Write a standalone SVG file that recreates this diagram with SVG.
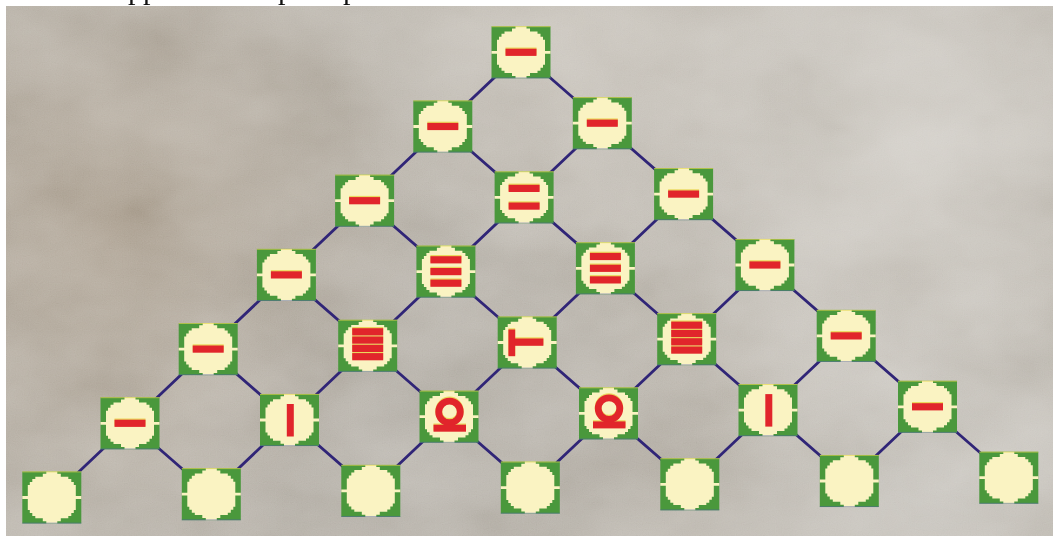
<svg xmlns="http://www.w3.org/2000/svg" xmlns:xlink="http://www.w3.org/1999/xlink" width="1053" height="536" viewBox="0 0 1053 536">
<style>
.cut{font-family:"Liberation Serif","Times New Roman",serif;font-size:30px;fill:#111}
.link{stroke:#302577;stroke-width:2.8;stroke-linecap:round}
.red{color:#e1252b}
.hl{color:#e8d44c;opacity:0.85}
</style>
<defs>
<radialGradient id="lt1" cx="900" cy="150" r="360" gradientUnits="userSpaceOnUse">
<stop offset="0" stop-color="#d0ccc5" stop-opacity="0.8"/>
<stop offset="1" stop-color="#d0ccc5" stop-opacity="0"/>
</radialGradient>
<radialGradient id="lt2" cx="560" cy="30" r="240" gradientUnits="userSpaceOnUse">
<stop offset="0" stop-color="#c8c2b9" stop-opacity="0.6"/>
<stop offset="1" stop-color="#c8c2b9" stop-opacity="0"/>
</radialGradient>
<radialGradient id="dk1" cx="110" cy="230" r="330" gradientUnits="userSpaceOnUse">
<stop offset="0" stop-color="#a09280" stop-opacity="0.8"/>
<stop offset="1" stop-color="#a09280" stop-opacity="0"/>
</radialGradient>
<radialGradient id="lt3" cx="930" cy="500" r="240" gradientUnits="userSpaceOnUse">
<stop offset="0" stop-color="#c9c6c0" stop-opacity="0.7"/>
<stop offset="1" stop-color="#c9c6c0" stop-opacity="0"/>
</radialGradient>
<radialGradient id="dk2" cx="420" cy="440" r="280" gradientUnits="userSpaceOnUse">
<stop offset="0" stop-color="#a9a49c" stop-opacity="0.6"/>
<stop offset="1" stop-color="#a9a49c" stop-opacity="0"/>
</radialGradient>
<filter id="mottle" x="0" y="0" width="100%" height="100%">
<feTurbulence type="fractalNoise" baseFrequency="0.008 0.012" numOctaves="4" seed="11"/>
<feColorMatrix type="matrix" values="0.33 0.33 0.33 0 0 0.33 0.33 0.33 0 0 0.33 0.33 0.33 0 0 0 0 0 0 1"/>
<feComponentTransfer>
<feFuncR type="linear" slope="1.4" intercept="-0.2"/>
<feFuncG type="linear" slope="1.4" intercept="-0.2"/>
<feFuncB type="linear" slope="1.4" intercept="-0.2"/>
</feComponentTransfer>
</filter>
<filter id="grain" x="0" y="0" width="100%" height="100%">
<feTurbulence type="fractalNoise" baseFrequency="0.85" numOctaves="1" seed="3"/>
<feColorMatrix type="matrix" values="0.33 0.33 0.33 0 0 0.33 0.33 0.33 0 0 0.33 0.33 0.33 0 0 0 0 0 0 1"/>
</filter>
<g id="tile">
<rect x="-29.5" y="-26" width="59" height="52" fill="#4a983c"/>
<polygon fill="#faf3c2" points="0,-26 5.5,-26 5.5,-23.8 9,-23.8 9,-20.8 16.5,-20.8 16.5,-18.5 19.5,-18.5 19.5,-15.5 22,-15.5 22,-12.5 24,-12.5 24,-1.4 29.5,-1.4 29.5,1.4 24,1.4 24,12.5 22,12.5 22,15.5 19.5,15.5 19.5,18.5 16.5,18.5 16.5,20.8 9,20.8 9,23.8 5.5,23.8 5.5,26 -5.5,26 -5.5,23.8 -9,23.8 -9,20.8 -16.5,20.8 -16.5,18.5 -19.5,18.5 -19.5,15.5 -22,15.5 -22,12.5 -24,12.5 -24,1.4 -29.5,1.4 -29.5,-1.4 -24,-1.4 -24,-12.5 -22,-12.5 -22,-15.5 -19.5,-15.5 -19.5,-18.5 -16.5,-18.5 -16.5,-20.8 -9,-20.8 -9,-23.8 -5.5,-23.8 -5.5,-26"/>
<line x1="-29.5" y1="-25.6" x2="29.5" y2="-25.6" stroke="#e3d64e" stroke-width="0.9" opacity="0.7"/>
<line x1="-29.5" y1="25.6" x2="29.5" y2="25.6" stroke="#4a5aa8" stroke-width="0.9" opacity="0.5"/>
</g>
<g id="g1" fill="currentColor"><rect x="-15.5" y="-3.6" width="31" height="7.2"/></g>
<g id="g2" fill="currentColor"><rect x="-15.5" y="-12.6" width="31" height="7.2"/><rect x="-15.5" y="5.1" width="31" height="7.2"/></g>
<g id="g3" fill="currentColor"><rect x="-15.5" y="-15.4" width="31" height="7.2"/><rect x="-15.5" y="-3.6" width="31" height="7.2"/><rect x="-15.5" y="8" width="31" height="7.2"/></g>
<g id="g4" fill="currentColor"><rect x="-15.5" y="-17.6" width="31" height="7.2"/><rect x="-15.5" y="-9.3" width="31" height="7.2"/><rect x="-15.5" y="-1" width="31" height="7.2"/><rect x="-15.5" y="7.3" width="31" height="7.2"/></g>
<g id="g5" fill="currentColor"><rect x="-2.7" y="-16" width="7" height="32.5"/></g>
<g id="g6" fill="currentColor"><rect x="-18.8" y="-13" width="6.8" height="26.7"/><rect x="-12.3" y="-4" width="28.5" height="7.3"/></g>
<g id="g10"><circle cx="0.5" cy="-4.8" r="10.8" fill="none" stroke="currentColor" stroke-width="6.8"/><rect x="-15.5" y="8" width="32.5" height="7" fill="currentColor"/></g>
</defs>

<rect x="0" y="0" width="1053" height="536" fill="#ffffff"/>
<g id="background">
<rect x="6" y="6" width="1047" height="530" fill="#afa99f"/>
<rect x="6" y="6" width="1047" height="530" fill="url(#dk1)"/>
<rect x="6" y="6" width="1047" height="530" fill="url(#dk2)"/>
<rect x="6" y="6" width="1047" height="530" fill="url(#lt1)"/>
<rect x="6" y="6" width="1047" height="530" fill="url(#lt2)"/>
<rect x="6" y="6" width="1047" height="530" fill="url(#lt3)"/>
<rect x="6" y="6" width="1047" height="530" filter="url(#mottle)" style="mix-blend-mode:soft-light" opacity="0.65"/>
<rect x="6" y="6" width="1047" height="530" filter="url(#grain)" style="mix-blend-mode:soft-light" opacity="0.35"/>
</g>

<g id="heading-fragments">
<text class="cut" x="128" y="-1.5">pp</text>
<text class="cut" x="278" y="-1.5">p</text>
<text class="cut" x="343" y="-1.5">p</text>
</g>

<g id="connectors">
<line class="link" x1="521" y1="52.3" x2="442.8" y2="126.5"/>
<line class="link" x1="521" y1="52.3" x2="602.3" y2="123.2"/>
<line class="link" x1="442.8" y1="126.5" x2="364.6" y2="200.7"/>
<line class="link" x1="442.8" y1="126.5" x2="524.1" y2="197.4"/>
<line class="link" x1="602.3" y1="123.2" x2="524.1" y2="197.4"/>
<line class="link" x1="602.3" y1="123.2" x2="683.6" y2="194.1"/>
<line class="link" x1="364.6" y1="200.7" x2="286.4" y2="274.9"/>
<line class="link" x1="364.6" y1="200.7" x2="445.9" y2="271.6"/>
<line class="link" x1="524.1" y1="197.4" x2="445.9" y2="271.6"/>
<line class="link" x1="524.1" y1="197.4" x2="605.4" y2="268.3"/>
<line class="link" x1="683.6" y1="194.1" x2="605.4" y2="268.3"/>
<line class="link" x1="683.6" y1="194.1" x2="764.9" y2="265"/>
<line class="link" x1="286.4" y1="274.9" x2="208.2" y2="349.1"/>
<line class="link" x1="286.4" y1="274.9" x2="367.7" y2="345.8"/>
<line class="link" x1="445.9" y1="271.6" x2="367.7" y2="345.8"/>
<line class="link" x1="445.9" y1="271.6" x2="527.2" y2="342.5"/>
<line class="link" x1="605.4" y1="268.3" x2="527.2" y2="342.5"/>
<line class="link" x1="605.4" y1="268.3" x2="686.7" y2="339.2"/>
<line class="link" x1="764.9" y1="265" x2="686.7" y2="339.2"/>
<line class="link" x1="764.9" y1="265" x2="846.2" y2="335.9"/>
<line class="link" x1="208.2" y1="349.1" x2="130" y2="423.3"/>
<line class="link" x1="208.2" y1="349.1" x2="289.5" y2="420"/>
<line class="link" x1="367.7" y1="345.8" x2="289.5" y2="420"/>
<line class="link" x1="367.7" y1="345.8" x2="449" y2="416.7"/>
<line class="link" x1="527.2" y1="342.5" x2="449" y2="416.7"/>
<line class="link" x1="527.2" y1="342.5" x2="608.5" y2="413.4"/>
<line class="link" x1="686.7" y1="339.2" x2="608.5" y2="413.4"/>
<line class="link" x1="686.7" y1="339.2" x2="768" y2="410.1"/>
<line class="link" x1="846.2" y1="335.9" x2="768" y2="410.1"/>
<line class="link" x1="846.2" y1="335.9" x2="927.5" y2="406.8"/>
<line class="link" x1="130" y1="423.3" x2="51.8" y2="497.5"/>
<line class="link" x1="130" y1="423.3" x2="211.3" y2="494.2"/>
<line class="link" x1="289.5" y1="420" x2="211.3" y2="494.2"/>
<line class="link" x1="289.5" y1="420" x2="370.8" y2="490.9"/>
<line class="link" x1="449" y1="416.7" x2="370.8" y2="490.9"/>
<line class="link" x1="449" y1="416.7" x2="530.3" y2="487.6"/>
<line class="link" x1="608.5" y1="413.4" x2="530.3" y2="487.6"/>
<line class="link" x1="608.5" y1="413.4" x2="689.8" y2="484.3"/>
<line class="link" x1="768" y1="410.1" x2="689.8" y2="484.3"/>
<line class="link" x1="768" y1="410.1" x2="849.3" y2="481"/>
<line class="link" x1="927.5" y1="406.8" x2="849.3" y2="481"/>
<line class="link" x1="927.5" y1="406.8" x2="1008.8" y2="477.7"/>
</g>

<g id="tile-0-0" transform="translate(521,52.3)"><use href="#tile"/><use href="#g1" class="hl" y="-1.2"/><use href="#g1" class="red"/></g>

<g id="tile-1-0" transform="translate(442.8,126.5)"><use href="#tile"/><use href="#g1" class="hl" y="-1.2"/><use href="#g1" class="red"/></g>
<g id="tile-1-1" transform="translate(602.3,123.2)"><use href="#tile"/><use href="#g1" class="hl" y="-1.2"/><use href="#g1" class="red"/></g>

<g id="tile-2-0" transform="translate(364.6,200.7)"><use href="#tile"/><use href="#g1" class="hl" y="-1.2"/><use href="#g1" class="red"/></g>
<g id="tile-2-1" transform="translate(524.1,197.4)"><use href="#tile"/><use href="#g2" class="hl" y="-1.2"/><use href="#g2" class="red"/></g>
<g id="tile-2-2" transform="translate(683.6,194.1)"><use href="#tile"/><use href="#g1" class="hl" y="-1.2"/><use href="#g1" class="red"/></g>

<g id="tile-3-0" transform="translate(286.4,274.9)"><use href="#tile"/><use href="#g1" class="hl" y="-1.2"/><use href="#g1" class="red"/></g>
<g id="tile-3-1" transform="translate(445.9,271.6)"><use href="#tile"/><use href="#g3" class="hl" y="-1.2"/><use href="#g3" class="red"/></g>
<g id="tile-3-2" transform="translate(605.4,268.3)"><use href="#tile"/><use href="#g3" class="hl" y="-1.2"/><use href="#g3" class="red"/></g>
<g id="tile-3-3" transform="translate(764.9,265)"><use href="#tile"/><use href="#g1" class="hl" y="-1.2"/><use href="#g1" class="red"/></g>

<g id="tile-4-0" transform="translate(208.2,349.1)"><use href="#tile"/><use href="#g1" class="hl" y="-1.2"/><use href="#g1" class="red"/></g>
<g id="tile-4-1" transform="translate(367.7,345.8)"><use href="#tile"/><use href="#g4" class="hl" y="-1.2"/><use href="#g4" class="red"/></g>
<g id="tile-4-2" transform="translate(527.2,342.5)"><use href="#tile"/><use href="#g6" class="hl" y="-1.2"/><use href="#g6" class="red"/></g>
<g id="tile-4-3" transform="translate(686.7,339.2)"><use href="#tile"/><use href="#g4" class="hl" y="-1.2"/><use href="#g4" class="red"/></g>
<g id="tile-4-4" transform="translate(846.2,335.9)"><use href="#tile"/><use href="#g1" class="hl" y="-1.2"/><use href="#g1" class="red"/></g>

<g id="tile-5-0" transform="translate(130,423.3)"><use href="#tile"/><use href="#g1" class="hl" y="-1.2"/><use href="#g1" class="red"/></g>
<g id="tile-5-1" transform="translate(289.5,420)"><use href="#tile"/><use href="#g5" class="red"/></g>
<g id="tile-5-2" transform="translate(449,416.7)"><use href="#tile"/><use href="#g10" class="hl" y="-1.2"/><use href="#g10" class="red"/></g>
<g id="tile-5-3" transform="translate(608.5,413.4)"><use href="#tile"/><use href="#g10" class="hl" y="-1.2"/><use href="#g10" class="red"/></g>
<g id="tile-5-4" transform="translate(768,410.1)"><use href="#tile"/><use href="#g5" class="red"/></g>
<g id="tile-5-5" transform="translate(927.5,406.8)"><use href="#tile"/><use href="#g1" class="hl" y="-1.2"/><use href="#g1" class="red"/></g>

<g id="tile-6-0" transform="translate(51.8,497.5)"><use href="#tile"/></g>
<g id="tile-6-1" transform="translate(211.3,494.2)"><use href="#tile"/></g>
<g id="tile-6-2" transform="translate(370.8,490.9)"><use href="#tile"/></g>
<g id="tile-6-3" transform="translate(530.3,487.6)"><use href="#tile"/></g>
<g id="tile-6-4" transform="translate(689.8,484.3)"><use href="#tile"/></g>
<g id="tile-6-5" transform="translate(849.3,481)"><use href="#tile"/></g>
<g id="tile-6-6" transform="translate(1008.8,477.7)"><use href="#tile"/></g>
</svg>
